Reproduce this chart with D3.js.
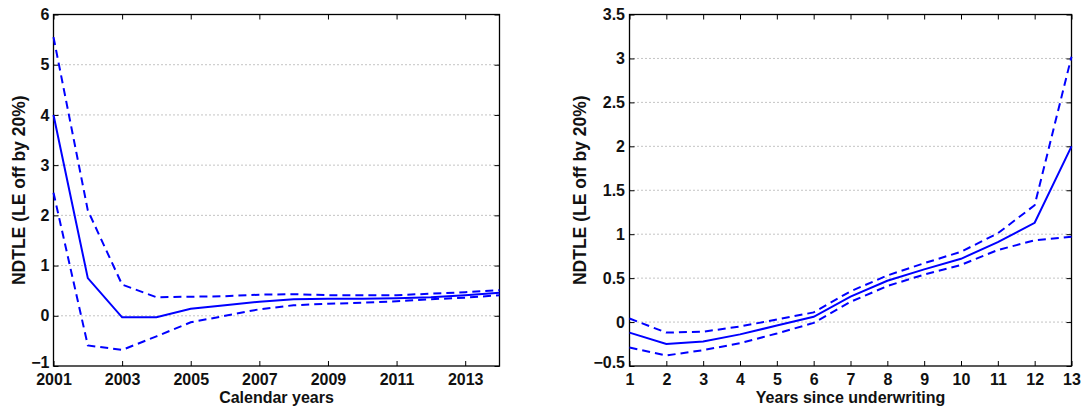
<!DOCTYPE html>
<html>
<head>
<meta charset="utf-8">
<script src="https://cdn.jsdelivr.net/npm/d3@7"></script>
<style>
  body { margin: 0; background: #fff; }
  svg { display: block; font-family: "Liberation Sans", Arial, sans-serif; font-weight: bold; }
</style>
</head>
<body>
<div id="chart"></div>
<script>
// left panel: calendar years
const calYears = [2001, 2002, 2003, 2004, 2005, 2006, 2007, 2008, 2009, 2010, 2011, 2012, 2013, 2014]
const calMean  = [4.0, 0.75, -0.03, -0.03, 0.14, 0.21, 0.28, 0.33, 0.34, 0.34, 0.35, 0.37, 0.41, 0.46]
const calUpper = [5.55, 2.1, 0.62, 0.37, 0.38, 0.39, 0.42, 0.43, 0.41, 0.41, 0.41, 0.44, 0.47, 0.51]
const calLower = [2.45, -0.59, -0.68, -0.41, -0.13, 0.0, 0.13, 0.21, 0.24, 0.26, 0.29, 0.33, 0.36, 0.41]
const calXTicks = [2001, 2003, 2005, 2007, 2009, 2011, 2013]
const calYTicks = [-1, 0, 1, 2, 3, 4, 5, 6]

// right panel: years since underwriting
const uwYears = [1, 2, 3, 4, 5, 6, 7, 8, 9, 10, 11, 12, 13]
const uwMean  = [-0.12, -0.25, -0.22, -0.14, -0.04, 0.06, 0.29, 0.47, 0.6, 0.72, 0.91, 1.13, 2.0]
const uwUpper = [0.04, -0.12, -0.11, -0.05, 0.03, 0.11, 0.35, 0.53, 0.67, 0.8, 1.01, 1.33, 3.02]
const uwLower = [-0.29, -0.38, -0.32, -0.24, -0.13, -0.01, 0.23, 0.41, 0.54, 0.65, 0.82, 0.93, 0.97]
const uwXTicks = [1, 2, 3, 4, 5, 6, 7, 8, 9, 10, 11, 12, 13]
const uwYTicks = [-0.5, 0, 0.5, 1, 1.5, 2, 2.5, 3, 3.5]

const W = 1087, H = 408
const blue = '#0000ff'

const svg = d3.select('#chart').append('svg')
  .attr('width', W)
  .attr('height', H)

const panels = [
  {
    left: 53.5, right: 499.5, xs: calYears, series: [calMean, calUpper, calLower],
    xDomain: [2001, 2014], yDomain: [-1, 6], xTicks: calXTicks, yTicks: calYTicks,
    xFmt: d3.format('d'), yFmt: d3.format('d'), yPad: 4,
    xTitle: 'Calendar years', yTitleX: 25
  },
  {
    left: 629.5, right: 1071.5, xs: uwYears, series: [uwMean, uwUpper, uwLower],
    xDomain: [1, 13], yDomain: [-0.5, 3.5], xTicks: uwXTicks, yTicks: uwYTicks,
    xFmt: d3.format('d'), yFmt: d => d3.format('')(d), yPad: 4.5,
    xTitle: 'Years since underwriting', yTitleX: 586
  }
]

const plotTop = 14.5, plotBottom = 366
const tickLen = 5

panels.forEach(p => {
  const x = d3.scaleLinear().domain(p.xDomain).range([p.left, p.right])
  const y = d3.scaleLinear().domain(p.yDomain).range([plotBottom, plotTop])
  const g = svg.append('g')

  // dotted horizontal grid
  g.selectAll('.grid')
    .data(p.yTicks.filter(d => d !== p.yDomain[0] && d !== p.yDomain[1]))
    .enter().append('line')
    .attr('class', 'grid')
    .attr('x1', p.left).attr('x2', p.right)
    .attr('y1', d => y(d)).attr('y2', d => y(d))
    .style('stroke', '#888')
    .style('stroke-width', 1)
    .style('stroke-dasharray', '1,3')

  // axes with inward ticks on all four sides
  const axB = g.append('g').attr('transform', `translate(0,${plotBottom})`)
    .call(d3.axisBottom(x).tickValues(p.xTicks).tickFormat(p.xFmt).tickSizeInner(-tickLen).tickSizeOuter(0).tickPadding(7.5))
  const axT = g.append('g').attr('transform', `translate(0,${plotTop})`)
    .call(d3.axisTop(x).tickValues(p.xTicks).tickFormat('').tickSizeInner(-tickLen).tickSizeOuter(0))
  const axL = g.append('g').attr('transform', `translate(${p.left},0)`)
    .call(d3.axisLeft(y).tickValues(p.yTicks).tickFormat(p.yFmt).tickSizeInner(-tickLen).tickSizeOuter(0).tickPadding(p.yPad))
  const axR = g.append('g').attr('transform', `translate(${p.right},0)`)
    .call(d3.axisRight(y).tickValues(p.yTicks).tickFormat('').tickSizeInner(-tickLen).tickSizeOuter(0))

  ;[axB, axT, axL, axR].forEach(a => {
    a.select('.domain').remove()
    a.selectAll('line').style('stroke', '#000').style('stroke-width', 1)
    a.selectAll('text')
      .style('font-family', '"Liberation Sans", Arial, sans-serif')
      .style('font-weight', 'bold')
      .style('font-size', '16px')
      .style('fill', '#111')
  })

  // lowest y label sits a bit above the corner, like the original
  axL.selectAll('.tick')
    .filter(d => d === p.yDomain[0])
    .select('text')
    .attr('dy', '0.1em')

  // box
  g.append('rect')
    .attr('x', p.left).attr('y', plotTop)
    .attr('width', p.right - p.left).attr('height', plotBottom - plotTop)
    .style('fill', 'none')
    .style('stroke', '#000')
    .style('stroke-width', 1.3)

  // lines
  const line = d3.line()
    .x((d, i) => x(p.xs[i]))
    .y(d => y(d))

  p.series.forEach((s, i) => {
    g.append('path')
      .datum(s)
      .attr('d', line)
      .style('fill', 'none')
      .style('stroke', blue)
      .style('stroke-width', 2)
      .style('stroke-dasharray', i === 0 ? null : '8,5')
  })

  // titles
  g.append('text')
    .attr('x', (p.left + p.right) / 2)
    .attr('y', 403)
    .attr('text-anchor', 'middle')
    .style('font-size', '16px')
    .style('fill', '#111')
    .text(p.xTitle)

  g.append('text')
    .attr('transform', `translate(${p.yTitleX},${(plotTop + plotBottom) / 2}) rotate(-90)`)
    .attr('text-anchor', 'middle')
    .style('font-size', '17.5px')
    .style('fill', '#111')
    .text('NDTLE (LE off by 20%)')
})
</script>
</body>
</html>
